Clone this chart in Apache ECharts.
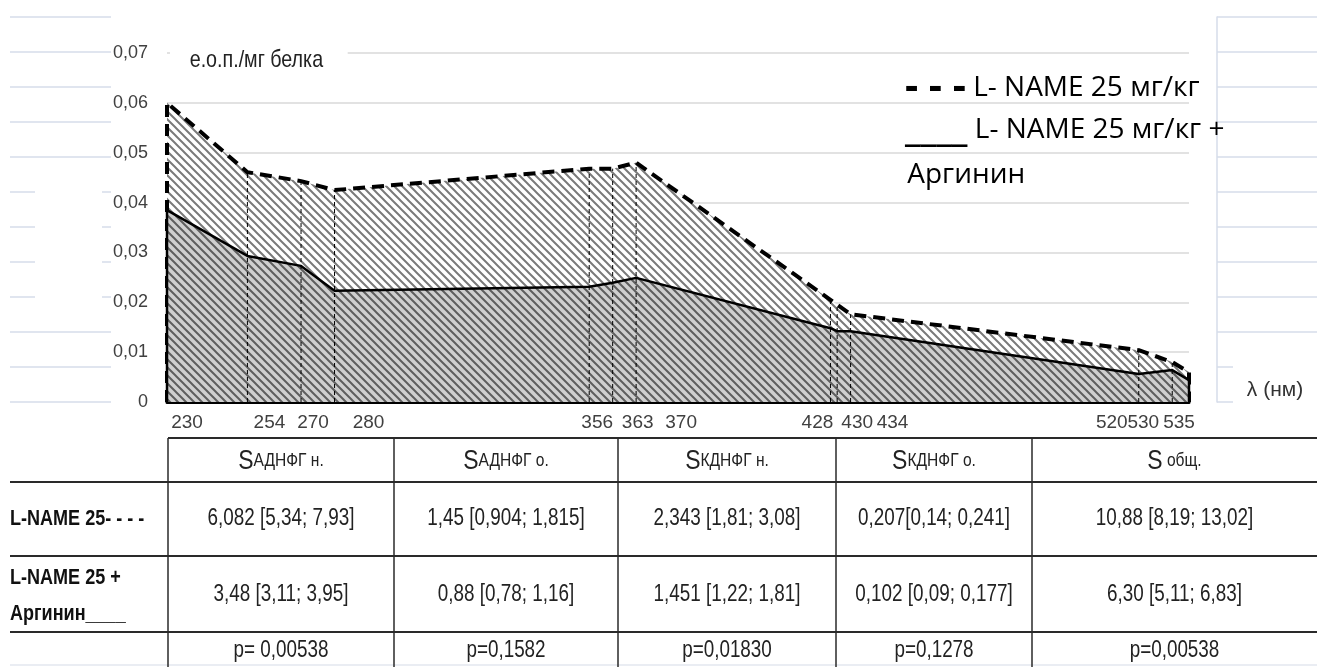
<!DOCTYPE html>
<html><head><meta charset="utf-8">
<script src="https://cdn.jsdelivr.net/npm/echarts@6/dist/echarts.min.js"></script>
<style>html,body{margin:0;padding:0;background:#fff}#c{width:1317px;height:667px}</style>
</head><body><div id="c"></div>
<script>
// ---------- data ----------
const wavelengths = [230, 254, 270, 280, 356, 363, 370, 428, 430, 434, 520, 530, 535];
const lnameValues = [0.0600, 0.0461, 0.0443, 0.0425, 0.0468, 0.0468, 0.0480, 0.0205, 0.0195, 0.0176, 0.0104, 0.0080, 0.0060];
const arginineValues = [0.0385, 0.0293, 0.0273, 0.0223, 0.0231, 0.0239, 0.0249, 0.0148, 0.0142, 0.0142, 0.0056, 0.0064, 0.0044];
const yTitle = 'е.о.п./мг белка';
const xTitle = 'λ (нм)';
const legendDash = ['- - -', ' L- NAME 25 мг/кг'];
const legendSolid = ['____', ' L- NAME 25 мг/кг +', ' Аргинин'];
const tableHeaders = ['SАДНФГ н.', 'SАДНФГ о.', 'SКДНФГ н.', 'SКДНФГ о.', 'S общ.'];
const rowLabels = [['L-NAME 25- - - -'], ['L-NAME 25 +', 'Аргинин____']];
const rowLname = ['6,082 [5,34; 7,93]', '1,45 [0,904; 1,815]', '2,343 [1,81; 3,08]', '0,207[0,14; 0,241]', '10,88 [8,19; 13,02]'];
const rowArginine = ['3,48 [3,11; 3,95]', '0,88 [0,78; 1,16]', '1,451 [1,22; 1,81]', '0,102 [0,09; 0,177]', '6,30 [5,11; 6,83]'];
const rowP = ['p= 0,00538', 'p=0,1582', 'p=0,01830', 'p=0,1278', 'p=0,00538'];

// ---------- layout / style ----------
const SANS = "'Liberation Sans', Arial, sans-serif";
const LEGF = "'Open Sans', sans-serif";
const SQ = 0.82; // horizontal squeeze of the narrow source typeface
const labelShift = {230: 20, 254: 22, 270: 12, 280: 34, 356: 8, 363: 25, 370: 45, 428: -13, 430: 20, 434: 42, 520: -27, 530: -29, 535: -10};
const tableCols = [168, 394, 618, 836, 1032, 1317];
const tableRows = {top: 438, head: 482, r1: 556, r2: 632, bottom: 667};
const blue = '#d6ddea';

function hatch(bg, stroke) {
  const c = document.createElement('canvas');
  c.width = 8; c.height = 8;
  const g = c.getContext('2d');
  g.fillStyle = bg; g.fillRect(0, 0, 8, 8);
  g.strokeStyle = stroke; g.lineWidth = 2;
  g.beginPath();
  g.moveTo(-1, -1); g.lineTo(9, 9);
  g.moveTo(-5, 3); g.lineTo(5, 13);
  g.moveTo(3, -5); g.lineTo(13, 5);
  g.stroke();
  return c;
}

const rich = {};
wavelengths.forEach(w => {
  const d = labelShift[w] || 0;
  rich['s' + w] = {
    fontSize: 19, fontFamily: SANS, color: '#404040',
    padding: d >= 0 ? [0, 0, 0, 2 * d] : [0, -2 * d, 0, 0]
  };
});

const upperData = [[wavelengths[0], 0]].concat(wavelengths.map((w, i) => [w, lnameValues[i]]), [[wavelengths[wavelengths.length - 1], 0]]);
const lowerData = [[wavelengths[0], 0]].concat(wavelengths.map((w, i) => [w, arginineValues[i]]), [[wavelengths[wavelengths.length - 1], 0]]);
const dropData = wavelengths.slice(1, -1).map((w, i) => [w, lnameValues[i + 1]]);

// ---------- graphics: titles, legend, table ----------
const g = [];
function sqText(x, y, style, z) {
  return {type: 'text', z: z || 102, x: x, y: y, scaleX: SQ, style: Object.assign({x: 0, y: 0, verticalAlign: 'middle'}, style)};
}
g.push({type: 'rect', z: 100, shape: {x: 35, y: 185, width: 67, height: 120}, style: {fill: '#fff'}});
g.push({type: 'rect', z: 100, shape: {x: 1233, y: 345, width: 84, height: 65}, style: {fill: '#fff'}});
g.push({type: 'text', z: 101, style: {text: xTitle, x: 1275, y: 390, align: 'center', verticalAlign: 'middle', font: '21px ' + SANS, fill: '#333'}});
g.push(sqText(170, 60, {text: yTitle, align: 'left', font: '24px ' + SANS, fill: '#222', backgroundColor: '#fff', padding: [4, 30, 4, 24]}, 101));

g.push({type: 'text', z: 101, style: {
  text: '{d|' + legendDash[0] + '}{t|' + legendDash[1] + '}', x: 905, y: 88, align: 'left', verticalAlign: 'middle',
  rich: {d: {font: 'bold 41px ' + LEGF, fill: '#000'}, t: {font: '28px ' + LEGF, fill: '#000'}}
}});
g.push({type: 'text', z: 101, style: {
  text: '{d|' + legendSolid[0] + '}{t|' + legendSolid[1] + '}', x: 905, y: 130, align: 'left', verticalAlign: 'middle',
  rich: {d: {font: 'bold 38px ' + LEGF, fill: '#000'}, t: {font: '28px ' + LEGF, fill: '#000'}}
}});
g.push({type: 'text', z: 101, style: {text: legendSolid[2], x: 900, y: 175, align: 'left', verticalAlign: 'middle', font: '28px ' + LEGF, fill: '#000'}});

// table lines
const lineStyle = {stroke: '#2a2a2a', lineWidth: 2};
g.push({type: 'line', z: 101, shape: {x1: tableCols[0], y1: tableRows.top, x2: 1317, y2: tableRows.top}, style: lineStyle});
[tableRows.head, tableRows.r1, tableRows.r2].forEach(y => {
  g.push({type: 'line', z: 101, shape: {x1: 10, y1: y, x2: 1317, y2: y}, style: lineStyle});
});
g.push({type: 'line', z: 101, shape: {x1: 10, y1: 665, x2: 1317, y2: 665}, style: {stroke: '#e3e7ef', lineWidth: 1.5}});
tableCols.slice(0, -1).forEach(x => {
  g.push({type: 'line', z: 101, shape: {x1: x, y1: tableRows.top, x2: x, y2: tableRows.bottom}, style: {stroke: '#2a2a2a', lineWidth: 1.5}});
});
// table texts
const cellFont = '23px ' + SANS;
const rowsY = {head: 461, r1: 519, r2: 595, p: 651};
tableHeaders.forEach((h, i) => {
  const cx = (tableCols[i] + tableCols[i + 1]) / 2;
  g.push(sqText(cx, rowsY.head, {
    text: '{b|' + h.charAt(0) + '}{s|' + h.slice(1) + '}', align: 'center',
    rich: {b: {font: '28px ' + SANS, fill: '#222'}, s: {font: '19px ' + SANS, fill: '#222'}}
  }));
  [[rowLname, rowsY.r1], [rowArginine, rowsY.r2], [rowP, rowsY.p]].forEach(([arr, y]) => {
    g.push(sqText(cx, y, {text: arr[i], align: 'center', font: cellFont, fill: '#222'}));
  });
});
g.push(sqText(10, rowsY.r1, {text: rowLabels[0][0], align: 'left', font: 'bold 22px ' + SANS, fill: '#111'}));
g.push(sqText(10, 578, {text: rowLabels[1][0], align: 'left', font: 'bold 22px ' + SANS, fill: '#111'}));
g.push(sqText(10, 614, {text: rowLabels[1][1], align: 'left', font: 'bold 22px ' + SANS, fill: '#111'}));

const chart = echarts.init(document.getElementById('c'), null, {renderer: 'canvas'});
chart.setOption({
  animation: false,
  backgroundColor: '#fff',
  grid: [
    {left: 167, top: 53, width: 1022, height: 349, outerBoundsMode: 'none'},
    {left: 10, top: 17, width: 101, height: 385, outerBoundsMode: 'none'},
    {left: 1217, top: 17, width: 100, height: 385, outerBoundsMode: 'none'}
  ],
  xAxis: [
    {gridIndex: 0, type: 'value', min: 230, max: 535,
     axisLine: {onZero: true, lineStyle: {color: '#000', width: 3}},
     axisTick: {show: false}, splitLine: {show: false},
     axisLabel: {customValues: wavelengths, margin: 11, fontSize: 19, fontFamily: SANS, color: '#404040',
       formatter: v => '{s' + v + '|' + v + '}', rich: rich}},
    {gridIndex: 1, type: 'value', min: 0, max: 1, show: false},
    {gridIndex: 2, type: 'value', min: 0, max: 1, show: false}
  ],
  yAxis: [
    {gridIndex: 0, type: 'value', min: 0, max: 0.07, interval: 0.01,
     axisLine: {show: false}, axisTick: {show: false},
     splitLine: {lineStyle: {color: '#d9d9d9', width: 1.5}},
     axisLabel: {margin: 19, fontSize: 18, fontFamily: SANS, color: '#404040',
       formatter: v => v === 0 ? '0' : v.toFixed(2).replace('.', ',')}},
    {gridIndex: 1, type: 'value', min: 0, max: 11, interval: 1,
     axisLine: {show: false}, axisTick: {show: false}, axisLabel: {show: false},
     splitLine: {lineStyle: {color: blue, width: 1.5}}},
    {gridIndex: 2, type: 'value', min: 0, max: 11, interval: 1,
     axisLine: {show: true, lineStyle: {color: blue, width: 1.5}}, axisTick: {show: false}, axisLabel: {show: false},
     splitLine: {lineStyle: {color: blue, width: 1.5}}}
  ],
  graphic: g,
  series: [
    {name: 'L- NAME 25 мг/кг', type: 'line', xAxisIndex: 0, yAxisIndex: 0, data: upperData, symbol: 'none', z: 2,
     lineStyle: {color: '#000', width: 4, type: [12, 7]},
     areaStyle: {color: {image: hatch('#ffffff', '#7a7a7a'), repeat: 'repeat'}, opacity: 1}},
    {name: 'L- NAME 25 мг/кг + Аргинин', type: 'line', xAxisIndex: 0, yAxisIndex: 0, data: lowerData, symbol: 'none', z: 3,
     lineStyle: {color: '#000', width: 2.5},
     areaStyle: {color: {image: hatch('#cfcfcf', '#5e5e5e'), repeat: 'repeat'}, opacity: 1}},
    {type: 'custom', xAxisIndex: 0, yAxisIndex: 0, data: dropData, z: 4,
     renderItem: (p, api) => {
       const a = api.coord([api.value(0), 0]);
       const b = api.coord([api.value(0), api.value(1)]);
       return {type: 'line', shape: {x1: a[0], y1: a[1], x2: b[0], y2: b[1]}, style: {stroke: '#000', lineWidth: 1, lineDash: [4, 3]}};
     }},
    {type: 'line', xAxisIndex: 1, yAxisIndex: 1, data: [], silent: true},
    {type: 'line', xAxisIndex: 2, yAxisIndex: 2, data: [], silent: true}
  ]
});
</script>
</body></html>
